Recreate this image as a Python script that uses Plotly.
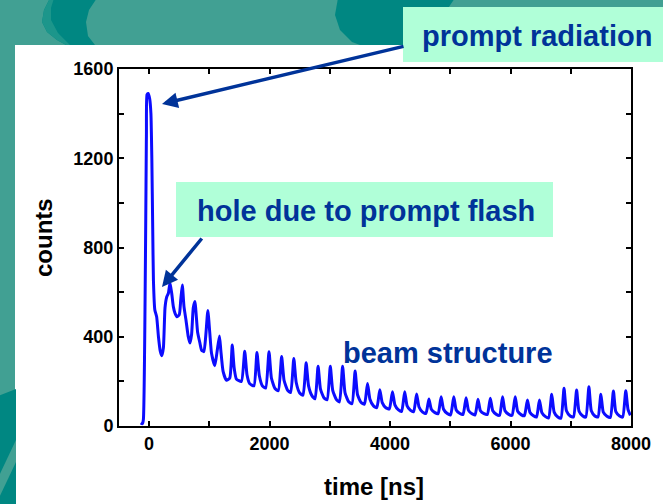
import plotly.graph_objects as go

# ---- data -------------------------------------------------------------
time_ns = [
    -140, -112, -95, -45, -35, -15, 10, 30, 45, 60, 72, 95, 125, 155, 185, 210,
    237, 264, 292, 320, 347, 375, 402, 430, 460, 500, 525, 551, 579, 612, 650,
    678, 705, 733, 760, 805, 843, 871, 909, 942, 975, 1008, 1036, 1091, 1129,
    1168, 1190, 1228, 1284, 1339, 1380, 1411, 1449, 1532, 1587, 1625, 1669,
    1740, 1790, 1830, 1880, 1935, 1990, 2030, 2090, 2145, 2200, 2240, 2300,
    2350, 2402, 2442, 2500, 2555, 2607, 2647, 2705, 2755, 2805, 2845, 2905,
    2955, 3008, 3048, 3110, 3160, 3212, 3252, 3310, 3368, 3420, 3460, 3520,
    3575, 3626, 3666, 3725, 3780, 3830, 3870, 3930, 3988, 4040, 4080, 4140,
    4192, 4243, 4283, 4340, 4392, 4441, 4481, 4540, 4595, 4645, 4685, 4745,
    4798, 4848, 4888, 4950, 5005, 5058, 5098, 5160, 5212, 5262, 5302, 5360,
    5412, 5460, 5500, 5560, 5615, 5665, 5705, 5765, 5818, 5868, 5908, 5970,
    6025, 6078, 6118, 6180, 6230, 6281, 6321, 6380, 6432, 6480, 6520, 6580,
    6632, 6684, 6724, 6785, 6837, 6888, 6928, 6990, 7045, 7097, 7137, 7200,
    7250, 7301, 7341, 7400, 7452, 7500, 7540, 7600, 7657, 7708, 7748, 7810,
    7862, 7913, 7950, 7990,
]
counts = [
    14, 10, 30, 1300, 1485, 1490, 1465, 1400, 1200, 880, 650, 520, 490, 400, 335, 315,
    350, 530, 578, 595, 642, 595, 535, 505, 490, 498, 565, 632, 535, 475, 400,
    372, 410, 530, 558, 420, 372, 340, 333, 410, 518, 415, 326, 270, 335,
    403, 340, 245, 205, 215, 363, 262, 210, 200, 335, 230, 190,
    180, 329, 225, 180, 170, 333, 215, 168, 158, 311, 205, 160,
    150, 303, 195, 148, 138, 283, 180, 135, 122, 268, 165, 125,
    118, 268, 160, 118, 108, 268, 150, 110, 100, 247, 140, 105,
    98, 191, 120, 90, 82, 163, 105, 82, 76, 154, 95, 72,
    65, 154, 90, 70, 64, 143, 85, 62, 56, 121, 75, 60,
    55, 131, 75, 56, 50, 131, 72, 56, 52, 127, 70, 55,
    50, 120, 68, 55, 52, 124, 68, 52, 48, 131, 68, 52,
    48, 131, 66, 50, 46, 117, 62, 46, 40, 117, 60, 42,
    36, 142, 62, 40, 35, 169, 68, 45, 40, 161, 66, 45,
    40, 176, 68, 45, 40, 142, 62, 44, 38, 157, 64, 45,
    40, 158, 75, 48,
]

x_range = [-500, 8000]
y_range = [0, 1600]
x_tick_vals = [0, 1000, 2000, 3000, 4000, 5000, 6000, 7000, 8000]
x_tick_text = ["0", "", "2000", "", "4000", "", "6000", "", "8000"]
y_tick_vals = [0, 200, 400, 600, 800, 1000, 1200, 1400, 1600]
y_tick_text = ["0", "", "400", "", "800", "", "1200", "", "1600"]

# ---- page geometry (pixels) -------------------------------------------
W, H = 663, 504
L, R, T, B = 119, 631, 69, 426


def fx(p):
    return (p - L) / (R - L)


def fy(p):
    return (B - p) / (B - T)


def poly(points):
    d = "M " + " L ".join(f"{fx(x):.5f},{fy(y):.5f}" for x, y in points) + " Z"
    return d


TEAL_LIGHT = "#41a093"
TEAL_DARK = "#008782"
TEAL_MID = "#1c968b"
MINT = "#b0ffd8"
NAVY = "#003399"

fig = go.Figure()
fig.add_trace(go.Scatter(
    x=time_ns, y=counts, mode="lines",
    line=dict(color="#0c0cff", width=3, shape="spline", smoothing=0.5),
    showlegend=False, hoverinfo="skip",
))

shapes = []
# white slide panel
shapes.append(dict(type="rect", xref="paper", yref="paper", layer="below",
                   x0=fx(15), x1=fx(W + 5), y0=fy(45), y1=fy(H + 5),
                   fillcolor="white", line=dict(width=0)))
# decorative swooshes in the slide background
shapes.append(dict(type="path", xref="paper", yref="paper", layer="below",
                   path=poly([(50, -2), (44, 10), (42, 22), (47, 32), (57, 40),
                              (66, 45), (95, 45), (88, 36), (86, 22), (89, 10),
                              (97, -2)]),
                   fillcolor=TEAL_DARK, line=dict(width=0)))
shapes.append(dict(type="path", xref="paper", yref="paper", layer="below",
                   path=poly([(50, -2), (44, 10), (42, 22), (47, 32), (57, 40),
                              (66, 45), (70, 45), (58, 33), (51, 20), (51, 8),
                              (54, -2)]),
                   fillcolor=TEAL_MID, line=dict(width=0)))
shapes.append(dict(type="path", xref="paper", yref="paper", layer="below",
                   path=poly([(338, -2), (335, 15), (340, 30), (352, 42),
                              (360, 45), (410, 45), (440, 20), (455, -2)]),
                   fillcolor=TEAL_DARK, line=dict(width=0)))
shapes.append(dict(type="path", xref="paper", yref="paper", layer="below",
                   path=poly([(-2, 396), (16, 389), (16, H + 5), (-2, H + 5)]),
                   fillcolor=TEAL_DARK, line=dict(width=0)))
shapes.append(dict(type="path", xref="paper", yref="paper", layer="below",
                   path=poly([(-2, 478), (16, 440), (16, 462), (-2, 500)]),
                   fillcolor=TEAL_LIGHT, line=dict(width=0)))
# label boxes
shapes.append(dict(type="rect", xref="paper", yref="paper", layer="above",
                   x0=fx(403), x1=fx(W + 10), y0=fy(7), y1=fy(62),
                   fillcolor=MINT, line=dict(width=0)))
shapes.append(dict(type="rect", xref="paper", yref="paper", layer="above",
                   x0=fx(176), x1=fx(553), y0=fy(182), y1=fy(237),
                   fillcolor=MINT, line=dict(width=0)))

label_font = dict(family="Liberation Sans", size=29, color=NAVY, weight="bold")
title_font = dict(family="Liberation Sans", size=24, color="black", weight="bold")

annotations = [
    dict(xref="paper", yref="paper", x=fx(537), y=fy(36), text="prompt radiation",
         showarrow=False, font=label_font, xanchor="center", yanchor="middle"),
    dict(xref="paper", yref="paper", x=fx(366), y=fy(211),
         text="hole due to prompt flash", showarrow=False, font=label_font,
         xanchor="center", yanchor="middle"),
    dict(xref="paper", yref="paper", x=fx(448), y=fy(353), text="beam structure",
         showarrow=False, font=label_font, xanchor="center", yanchor="middle"),
    # arrows
    dict(xref="paper", yref="paper", x=fx(162), y=fy(104), ax=243, ay=-58,
         text="", showarrow=True, arrowhead=2, arrowsize=0.9, arrowwidth=3.5,
         arrowcolor=NAVY),
    dict(xref="paper", yref="paper", x=fx(162), y=fy(287), ax=41, ay=-50,
         text="", showarrow=True, arrowhead=2, arrowsize=0.9, arrowwidth=3.5,
         arrowcolor=NAVY),
    # axis titles
    dict(xref="paper", yref="paper", x=fx(43), y=fy(238), text="counts",
         textangle=-90, showarrow=False, font=title_font,
         xanchor="center", yanchor="middle"),
    dict(xref="paper", yref="paper", x=fx(374), y=fy(486), text="time [ns]",
         showarrow=False, font=title_font, xanchor="center", yanchor="middle"),
]

tick_font = dict(family="Liberation Sans", size=18, color="black", weight="bold")
axis_common = dict(
    showline=True, linecolor="black", linewidth=2, mirror="ticks",
    ticks="inside", ticklen=5, tickwidth=1.5, tickcolor="black",
    showgrid=False, zeroline=False, tickfont=tick_font, tickmode="array",
)

fig.update_layout(
    width=W, height=H,
    margin=dict(l=L, r=W - R, t=T, b=H - B, pad=0),
    paper_bgcolor=TEAL_LIGHT, plot_bgcolor="white",
    xaxis=dict(range=x_range, tickvals=x_tick_vals, ticktext=x_tick_text,
               **axis_common),
    yaxis=dict(range=y_range, tickvals=y_tick_vals, ticktext=y_tick_text,
               **axis_common),
    shapes=shapes, annotations=annotations,
)

fig.write_html("out.html")
